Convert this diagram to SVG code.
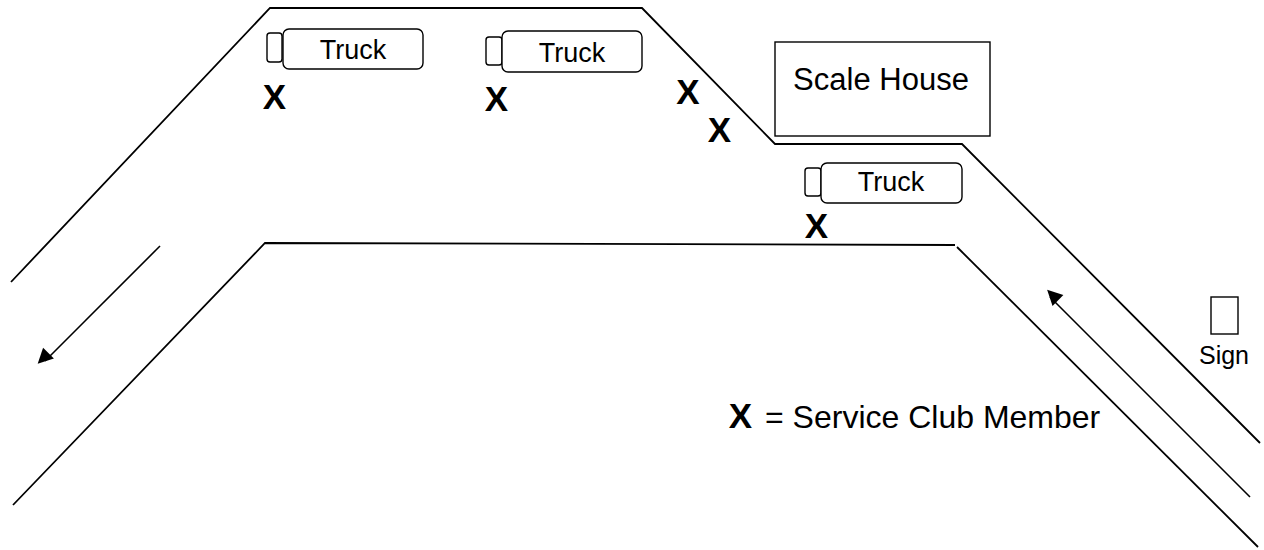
<svg xmlns="http://www.w3.org/2000/svg" width="1264" height="550" viewBox="0 0 1264 550">
<style>
.road{stroke:#000;stroke-width:1.8;fill:none}
.arr{stroke:#000;stroke-width:1.6;fill:none}
.box{stroke:#000;stroke-width:1.4;fill:#fff}
.t{font-family:"Liberation Sans",Arial,sans-serif;fill:#000}
.x{font-family:"Liberation Sans",Arial,sans-serif;font-weight:bold;font-size:35px;fill:#000;text-anchor:middle}
</style>
<defs>
<marker id="ah" viewBox="0 0 10 10" refX="9" refY="5" markerWidth="10" markerHeight="9" markerUnits="userSpaceOnUse" orient="auto" overflow="visible">
<path d="M0,0 L10,5 L0,10 z" fill="#000" transform="scale(1.7)"/>
</marker>
</defs>
<rect width="1264" height="550" fill="#fff"/>
<g id="roads">
<polyline class="road" points="11,282 270,8 642,8 775,144 962,144 1260,443"/>
<polyline class="road" points="13,505 265,243 955,245"/>
<line class="road" x1="957" y1="247" x2="1258" y2="547"/>
</g>
<g id="connectors">
<line class="arr" x1="160" y1="246" x2="45" y2="361" marker-end="url(#ah)"/>
<line class="arr" x1="1250" y1="497" x2="1050" y2="297" marker-end="url(#ah)"/>
</g>
<g id="truck1">
<rect class="box" x="267" y="33" width="15" height="29" rx="3"/>
<rect class="box" x="283" y="29" width="140" height="40" rx="6"/>
<text class="t" x="353" y="59" font-size="27" text-anchor="middle">Truck</text>
</g>
<g id="truck2">
<rect class="box" x="486" y="37" width="16" height="28" rx="3"/>
<rect class="box" x="502" y="31" width="140" height="41" rx="6"/>
<text class="t" x="572" y="62" font-size="27" text-anchor="middle">Truck</text>
</g>
<g id="truck3">
<rect class="box" x="805" y="168" width="16" height="28" rx="3"/>
<rect class="box" x="821" y="163" width="141" height="40" rx="6"/>
<text class="t" x="891" y="191" font-size="27" text-anchor="middle">Truck</text>
</g>
<g id="scale-house">
<rect class="box" x="775" y="42" width="215" height="94" stroke-width="2"/>
<text class="t" x="881" y="90" font-size="31" text-anchor="middle">Scale House</text>
</g>
<g id="sign">
<rect class="box" x="1211" y="297" width="27" height="37"/>
<text class="t" x="1224" y="364" font-size="25" text-anchor="middle">Sign</text>
</g>
<g id="members">
<text class="x" x="274.5" y="109">X</text>
<text class="x" x="496.5" y="111">X</text>
<text class="x" x="688" y="104">X</text>
<text class="x" x="719.5" y="142">X</text>
<text class="x" x="816.5" y="238">X</text>
</g>
<g id="legend">
<text class="x" x="740.5" y="428">X</text>
<text class="t" x="765" y="428" font-size="32">= Service Club Member</text>
</g>
</svg>
